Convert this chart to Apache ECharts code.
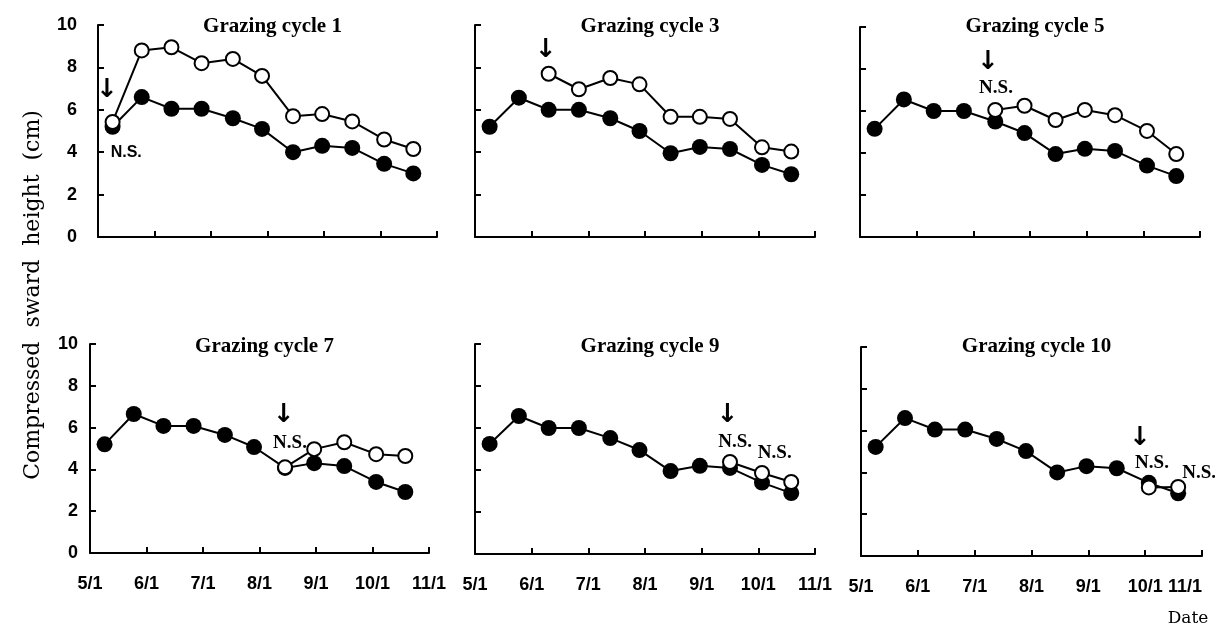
<!DOCTYPE html>
<html>
<head>
<meta charset="utf-8">
<script src="https://cdn.jsdelivr.net/npm/echarts@6/dist/echarts.min.js"></script>
<style>
html,body{margin:0;padding:0;background:#fff;}
#chart{width:1215px;height:627px;}
</style>
</head>
<body>
<div id="chart"></div>
<script>
// ---- data ----
const sampleDates = ['5/9','5/25','6/10','6/26','7/13','7/29','8/15','8/31','9/16','10/3','10/19'];
const tickLabels = ['5/1','6/1','7/1','8/1','9/1','10/1','11/1'];
const titles = ['Grazing cycle 1','Grazing cycle 3','Grazing cycle 5','Grazing cycle 7','Grazing cycle 9','Grazing cycle 10'];

const control1 = [5.2, 6.6, 6.05, 6.05, 5.6, 5.1, 4.0, 4.3, 4.2, 3.45, 3.0];
const treated1 = [5.43, 8.8, 8.95, 8.2, 8.4, 7.6, 5.7, 5.8, 5.45, 4.6, 4.15];
const control3 = [5.2, 6.57, 6.0, 6.0, 5.6, 5.0, 3.95, 4.25, 4.15, 3.4, 2.96];
const treated3 = [null, null, 7.7, 6.97, 7.5, 7.2, 5.67, 5.67, 5.57, 4.23, 4.03];
const control5 = [5.15, 6.55, 6.0, 6.0, 5.5, 4.95, 3.95, 4.2, 4.1, 3.4, 2.9];
const treated5 = [null, null, null, null, 6.05, 6.25, 5.57, 6.05, 5.8, 5.05, 3.95];
const control7 = [5.2, 6.65, 6.08, 6.08, 5.65, 5.07, 4.07, 4.3, 4.16, 3.4, 2.92];
const treated7 = [null, null, null, null, null, null, 4.1, 4.97, 5.3, 4.73, 4.64];
const control9 = [5.24, 6.57, 6.0, 6.0, 5.52, 4.95, 3.95, 4.2, 4.1, 3.4, 2.9];
const treated9 = [null, null, null, null, null, null, null, null, 4.38, 3.86, 3.43];
const control10 = [5.22, 6.6, 6.05, 6.05, 5.6, 5.02, 4.0, 4.3, 4.2, 3.5, 3.0];
const treated10 = [null, null, null, null, null, null, null, null, null, 3.28, 3.3];

// annotation texts (arrow = start of treatment, N.S. = not significant)
const notes1 = [{x:0.16, y:6.93, t:'↓'}, {x:0.50, y:3.96, t:'N.S.', sans:true}];
const notes3 = [{x:1.25, y:8.82, t:'↓'}];
const notes5 = [{x:2.26, y:8.33, t:'↓'}, {x:2.40, y:7.10, t:'N.S.'}];
const notes7 = [{x:3.43, y:6.60, t:'↓'}, {x:3.54, y:5.26, t:'N.S.'}];
const notes9 = [{x:4.46, y:6.62, t:'↓'}, {x:4.59, y:5.33, t:'N.S.'}, {x:5.29, y:4.81, t:'N.S.'}];
const notes10 = [{x:4.91, y:5.65, t:'↓'}, {x:5.12, y:4.45, t:'N.S.'}, {x:5.95, y:3.97, t:'N.S.'}];

// ---- helpers ----
const monthDays = {5:31,6:30,7:31,8:31,9:30,10:31};
function toMonthPos(s){ const [m,d] = s.split('/').map(Number); return (m-5) + (d-1)/monthDays[m]; }
const xs = sampleDates.map(toMonthPos);

const controls = [control1, control3, control5, control7, control9, control10];
const treateds = [treated1, treated3, treated5, treated7, treated9, treated10];
const notes = [notes1, notes3, notes5, notes7, notes9, notes10];

// layout (pixels)
const grids = [
  {left:98,  top:25,  width:339, height:212},
  {left:475, top:25,  width:340, height:212},
  {left:860, top:27,  width:340, height:210},
  {left:90,  top:344, width:339, height:209},
  {left:475, top:344, width:340, height:210},
  {left:861, top:347, width:341, height:209}
];
const yLabelMargin = [21, 0, 0, 12, 0, 0];

const axisLine = {show:true, lineStyle:{color:'#000', width:2}};
const axisTick = {show:true, inside:true, length:6, lineStyle:{color:'#000', width:2}};

const option = {
  backgroundColor:'#fff',
  animation:false,
  title: titles.map((t,i)=>({
    text:t,
    left: grids[i].left + grids[i].width/2,
    top: i < 3 ? 11 : 331,
    textAlign:'center',
    textStyle:{fontFamily:'Liberation Serif', fontWeight:'bold', fontSize:21, color:'#000'}
  })),
  grid: grids.map(g=>Object.assign({containLabel:false, outerBoundsMode:'none'}, g)),
  xAxis: grids.map((g,i)=>({
    type:'value', gridIndex:i, min:0, max:6, interval:1,
    axisLine, axisTick, splitLine:{show:false},
    axisLabel:{
      show: i >= 3, margin:22, showMinLabel:true, showMaxLabel:true, hideOverlap:false,
      alignMaxLabel: i === 5 ? 'right' : 'center',
      fontFamily:'Liberation Sans', fontWeight:'bold', fontSize:18, color:'#000',
      formatter: v => tickLabels[Math.round(v)]
    }
  })),
  yAxis: grids.map((g,i)=>({
    type:'value', gridIndex:i, min:0, max:10, interval:2,
    axisLine, axisTick, splitLine:{show:false},
    axisLabel:{
      show: i === 0 || i === 3, margin: yLabelMargin[i],
      fontFamily:'Liberation Sans', fontWeight:'bold', fontSize:18, color:'#000'
    }
  })),
  graphic: [
    {type:'text', x:33, y:295, rotation:Math.PI/2,
     style:{text:'Compressed  sward  height  (cm)', font:'22px "DejaVu Serif"', fill:'#000',
            align:'center', verticalAlign:'middle', textAlign:'center', textVerticalAlign:'middle'}},
    {type:'text', x:1188, y:619,
     style:{text:'Date', font:'17px "DejaVu Serif"', fill:'#000',
            align:'center', verticalAlign:'middle', textAlign:'center', textVerticalAlign:'middle'}}
  ],
  series: []
};

for (let i = 0; i < 6; i++) {
  option.series.push({
    type:'line', xAxisIndex:i, yAxisIndex:i, z:2,
    data: xs.map((x,k)=>[x, controls[i][k]]),
    symbol:'circle', symbolSize:16,
    lineStyle:{color:'#000', width:2},
    itemStyle:{color:'#000', borderColor:'#000', borderWidth:0}
  });
  option.series.push({
    type:'line', xAxisIndex:i, yAxisIndex:i, z:3,
    data: xs.map((x,k)=>[x, treateds[i][k]]).filter(p=>p[1] !== null),
    symbol:'circle', symbolSize:14, showAllSymbol:true,
    lineStyle:{color:'#000', width:2},
    itemStyle:{color:'#fff', borderColor:'#000', borderWidth:2}
  });
  option.series.push({
    type:'scatter', xAxisIndex:i, yAxisIndex:i, z:5, silent:true,
    symbolSize:0, itemStyle:{color:'#fff', opacity:1},
    emphasis:{disabled:true},
    data: notes[i].map(n=>({
      value:[n.x, n.y],
      label:{
        show:true, position:'inside', formatter:n.t, color:'#000', opacity:1,
        textBorderWidth:0, textShadowBlur:0, fontWeight:'bold',
        fontFamily: n.t === '↓' ? 'DejaVu Sans' : (n.sans ? 'Liberation Sans' : 'Liberation Serif'),
        fontSize: n.t === '↓' ? 26 : (n.sans ? 16 : 19)
      }
    }))
  });
}

const chart = echarts.init(document.getElementById('chart'), null, {renderer:'canvas'});
chart.setOption(option);
</script>
</body>
</html>
